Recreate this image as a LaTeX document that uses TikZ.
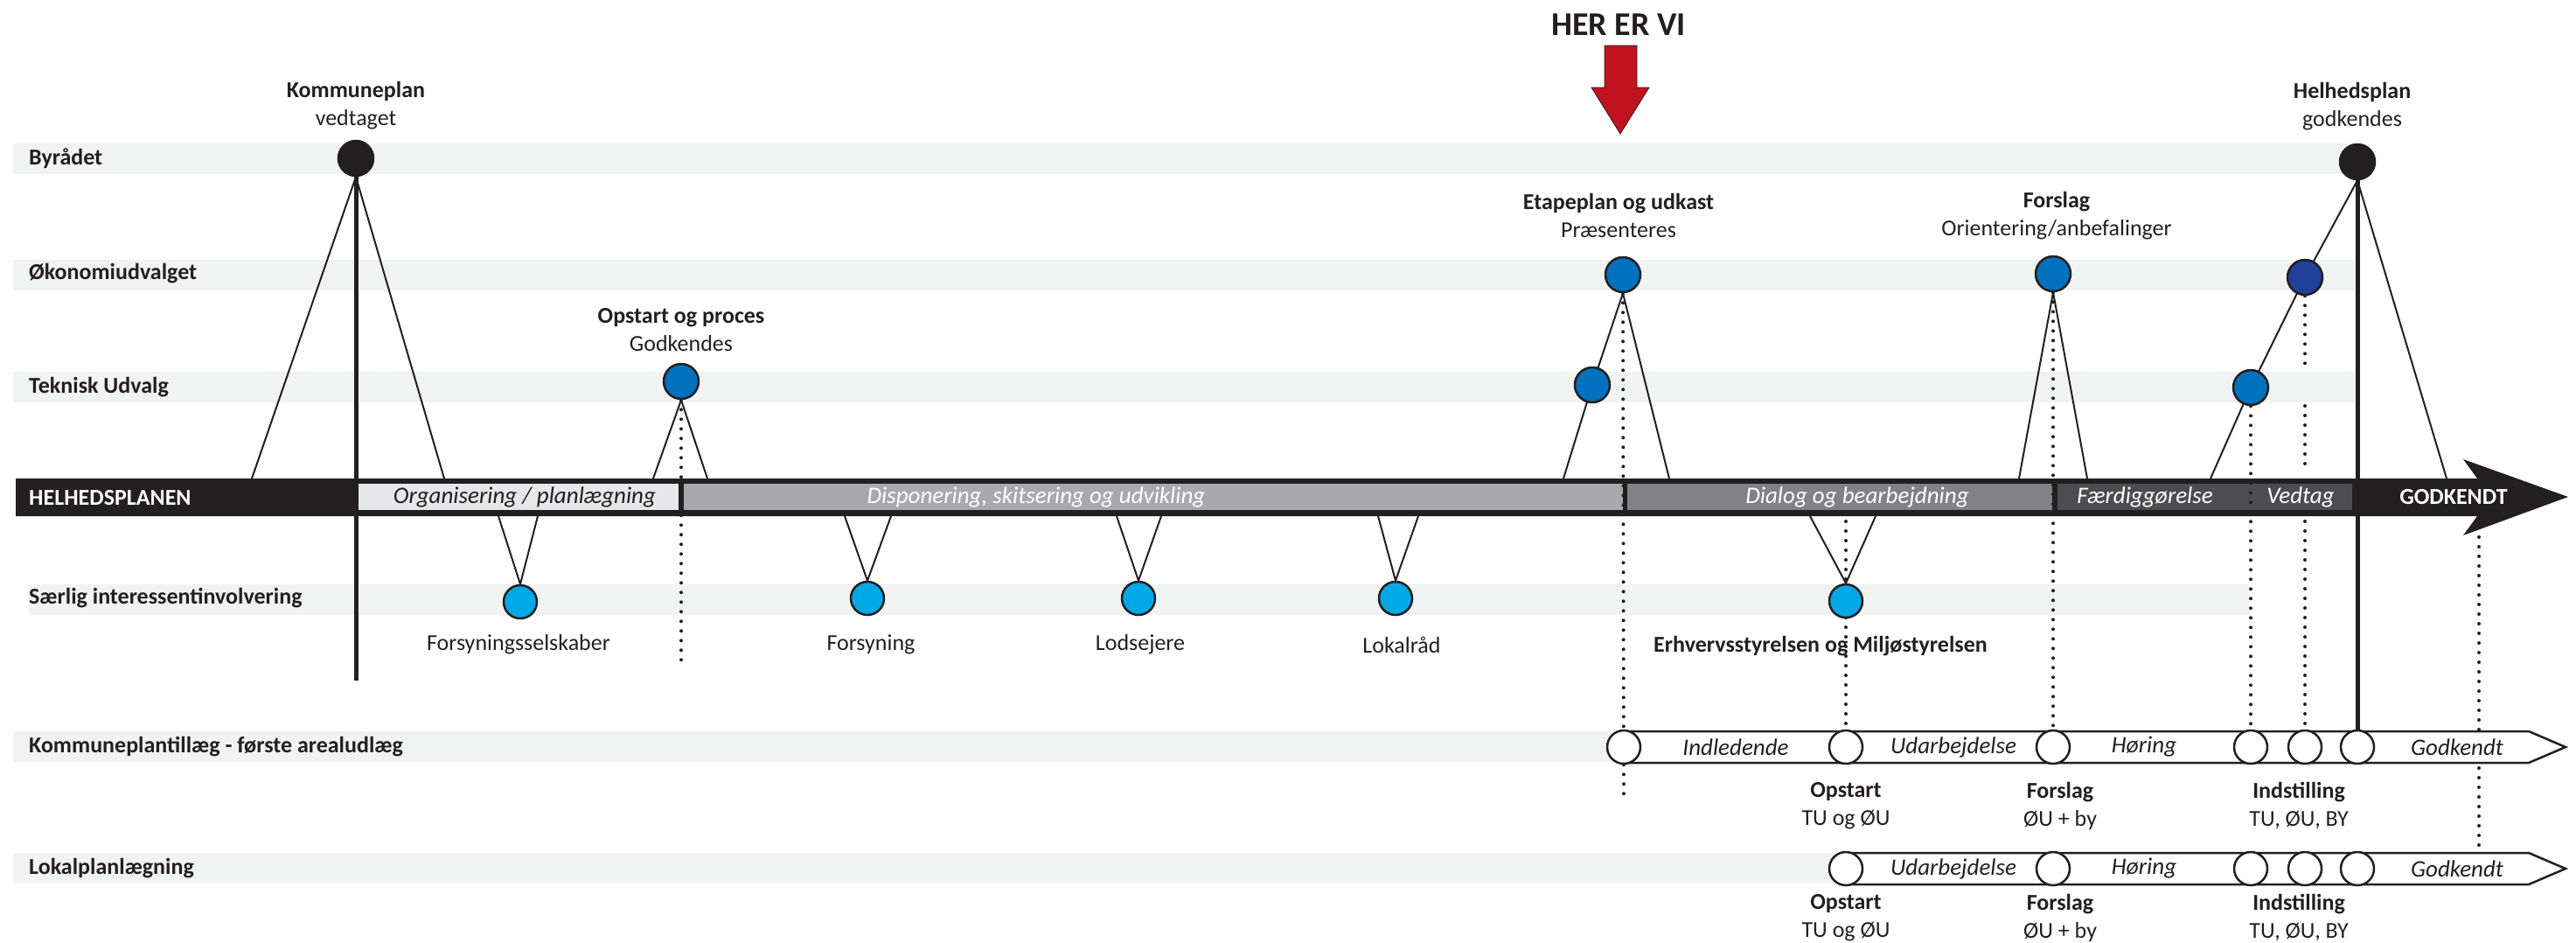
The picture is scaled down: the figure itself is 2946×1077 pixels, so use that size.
\documentclass[tikz,border=0pt]{standalone}
\usepackage{fontspec}
\setmainfont{Carlito}
\usetikzlibrary{calc}
\definecolor{bandgray}{HTML}{F1F2F2}
\definecolor{ink}{HTML}{231F20}
\definecolor{ph1}{HTML}{E6E7E8}
\definecolor{ph2}{HTML}{A7A9AC}
\definecolor{ph3}{HTML}{808285}
\definecolor{ph4}{HTML}{4D4D4F}
\definecolor{mblue}{HTML}{0071BC}
\definecolor{cblue}{HTML}{00A8E6}
\definecolor{dblue}{HTML}{21409A}
\definecolor{hred}{HTML}{C1121F}
\pgfdeclarelayer{back}
\pgfdeclarelayer{mid}
\pgfsetlayers{back,mid,main}
\tikzset{
 rowband/.style={fill=bandgray, draw=none},
 rowlbl/.style={anchor=west, font=\bfseries\fontsize{26}{30}\selectfont, text=ink, inner sep=0},
 ms/.style={circle, draw=ink, line width=2.5pt, minimum size=40pt, inner sep=0},
 blk/.style={ms, fill=ink},
 blu/.style={ms, fill=mblue},
 cyn/.style={ms, fill=cblue, minimum size=38pt},
 dbl/.style={ms, fill=dblue},
 wht/.style={ms, fill=white, minimum size=38pt},
 leg/.style={line width=2pt, draw=ink},
 vline/.style={line width=5pt, draw=ink},
 dotln/.style={line width=4pt, draw=ink, line cap=round, dash pattern=on 0pt off 11pt},
 ttl/.style={align=center, font=\fontsize{26}{32}\selectfont, text=ink, inner sep=0},
 sub/.style={font=\fontsize{26}{30}\selectfont, text=ink, inner sep=0},
 phtxt/.style={font=\itshape\fontsize{27}{30}\selectfont, inner sep=0},
 trk/.style={draw=ink, line width=2.5pt, fill=white, line join=miter},
}
\begin{document}
\begin{tikzpicture}[x=1pt,y=-1pt]
\useasboundingbox (0,0) rectangle (2946,1077);
% ---------------- background bands
\begin{pgfonlayer}{back}
 \fill[rowband] (15,164) rectangle (2695,199);
 \fill[rowband] (15,297) rectangle (2695,332);
 \fill[rowband] (15,425) rectangle (2695,460);
 \fill[rowband] (33,668) rectangle (2572,703);
 \fill[rowband] (15,836) rectangle (1857,871);
 \fill[rowband] (15,975) rectangle (2111,1010);
 % main timeline arrow
 \fill[ink] (18,547) -- (2833,547) -- (2817,525) -- (2937,568) -- (2817,612) -- (2833,590) -- (18,590) -- cycle;
 \fill[ph1] (410,553) rectangle (776,583);
 \fill[ph2] (782,553) rectangle (1856,583);
 \fill[ph3] (1861,553) rectangle (2347,583);
 \fill[ph4] (2353,553) rectangle (2690,583);
\end{pgfonlayer}

% ---------------- row labels
\node[rowlbl] (rByr) at (33,181) {Byrådet};
\node[rowlbl] (rOek) at (33,313) {Økonomiudvalget};
\node[rowlbl] (rTek) at (33,443) {Teknisk Udvalg};
\node[rowlbl] (rSaer) at (33,684) {Særlig interessentinvolvering};
\node[rowlbl] (rKpt) at (33,854) {Kommuneplantillæg - første arealudlæg};
\node[rowlbl] (rLok) at (33,993) {Lokalplanlægning};

% ---------------- main band texts
\node[anchor=west, font=\bfseries\fontsize{26}{30}\selectfont, text=white, inner sep=0] (hpl) at (33,569) {HELHEDSPLANEN};
\node[phtxt, text=ink] (p1) at (600,568) {Organisering / planlægning};
\node[phtxt, text=white] (p2) at (1185,568) {Disponering, skitsering og udvikling};
\node[phtxt, text=white] (p3) at (2124,568) {Dialog og bearbejdning};
\node[phtxt, text=white] (p4) at (2453,568) {Færdiggørelse};
\node[phtxt, text=white] (p5) at (2631,568) {Vedtag};
\node[font=\bfseries\fontsize{26}{30}\selectfont, text=white, inner sep=0] (gk) at (2806,568) {GODKENDT};

% ---------------- HER ER VI
\node[font=\bfseries\fontsize{38}{42}\selectfont, text=ink, inner sep=0] (her) at (1851,28) {HER ER VI};
\fill[hred, draw=ink, line width=0.8pt] (1835,52) -- (1872,52) -- (1872,100) -- (1886,100) -- (1853,153) -- (1820,100) -- (1835,100) -- cycle;

% ---------------- lower tracks
\draw[trk] (1857,836) -- (2892,836) -- (2934,854) -- (2892,872) -- (1857,872) -- cycle;
\draw[trk] (2111,975) -- (2892,975) -- (2934,993) -- (2892,1011) -- (2111,1011) -- cycle;

% ---------------- milestone circles
\node[blk] (kp) at (407,181) {};
\node[blk] (hp) at (2696,185) {};
\node[blu] (op) at (779,436) {};
\node[blu] (ep) at (1856,314) {};
\node[blu] (et) at (1821,440) {};
\node[blu] (fo) at (2348,313) {};
\node[dbl] (db) at (2636,317) {};
\node[blu] (tk) at (2574,443) {};
\node[cyn] (s1) at (595,688) {};
\node[cyn] (s2) at (992,684) {};
\node[cyn] (s3) at (1302,684) {};
\node[cyn] (s4) at (1596,684) {};
\node[cyn] (s5) at (2111,687) {};
\node[wht] (k1) at (1857,854) {};
\node[wht] (k2) at (2111,854) {};
\node[wht] (k3) at (2348,854) {};
\node[wht] (k4) at (2574,854) {};
\node[wht] (k5) at (2636,854) {};
\node[wht] (k6) at (2696,854) {};
\node[wht] (l2) at (2111,993) {};
\node[wht] (l3) at (2348,993) {};
\node[wht] (l4) at (2574,993) {};
\node[wht] (l5) at (2636,993) {};
\node[wht] (l6) at (2696,993) {};

% ---------------- milestone titles
\node[ttl] (tKp) at (407,121) {{\bfseries Kommuneplan}\\vedtaget};
\node[ttl] (tOp) at (779,377) {{\bfseries Opstart og proces}\\Godkendes};
\node[ttl] (tEp) at (1851,246) {{\bfseries Etapeplan og udkast}\\Præsenteres};
\node[ttl] (tFo) at (2352,247) {{\bfseries Forslag}\\Orientering/anbefalinger};
\node[ttl] (tHp) at (2690,122) {{\bfseries Helhedsplan}\\godkendes};

% ---------------- stakeholder labels
\node[sub] (n1) at (593,737) {Forsyningsselskaber};
\node[sub] (n2) at (996,737) {Forsyning};
\node[sub] (n3) at (1304,737) {Lodsejere};
\node[sub] (n4) at (1603,737) {Lokalråd};
\node[sub, font=\bfseries\fontsize{26}{30}\selectfont] (n5) at (2082,739) {Erhvervsstyrelsen og Miljøstyrelsen};

% ---------------- track labels
\foreach \y/\nm in {854/k, 993/l}{
 \node[phtxt, text=ink] (\nm U) at (2234,\y) {Udarbejdelse};
 \node[phtxt, text=ink] (\nm H) at (2452,\y) {Høring};
 \node[phtxt, text=ink] (\nm G) at (2810,\y) {Godkendt};
}
\node[phtxt, text=ink] (kI) at (1985,854) {Indledende};
\foreach \y/\nm in {921/a, 1049/b}{
 \node[ttl] (\nm1) at (2111,\y) {{\bfseries Opstart}\\TU og ØU};
 \node[ttl] (\nm2) at (2356,\y) {{\bfseries Forslag}\\ØU + by};
 \node[ttl] (\nm3) at (2629,\y) {{\bfseries Indstilling}\\TU, ØU, BY};
}

% ---------------- connectors
\coordinate (kpL) at (288,547);  \coordinate (kpR) at (508,547);  \coordinate (kpE) at (407,778);
\coordinate (opL) at (747,547);  \coordinate (opR) at (809,547);  \coordinate (opE) at (779,755);
\coordinate (epL) at (1788,547); \coordinate (epR) at (1909,547); \coordinate (epE) at (1857,910);
\coordinate (foL) at (2309,547); \coordinate (foR) at (2387,547);
\coordinate (hpL) at (2528,547); \coordinate (hpR) at (2798,547);
\coordinate (s1L) at (570,590);  \coordinate (s1R) at (615,590);
\coordinate (s2L) at (966,590);  \coordinate (s2R) at (1019,590);
\coordinate (s3L) at (1277,590); \coordinate (s3R) at (1328,590);
\coordinate (s4L) at (1576,590); \coordinate (s4R) at (1622,590);
\coordinate (s5L) at (2070,590); \coordinate (s5R) at (2145,590);
\coordinate (s5T) at (2111,596);
\coordinate (dbA) at (2636,424); \coordinate (dbB) at (2636,464);
\coordinate (dbC) at (2636,541); \coordinate (dbD) at (2636,596);
\coordinate (gkA) at (2835,614); \coordinate (gkB) at (2835,975);
\begin{pgfonlayer}{mid}
 \draw[leg] (kpL) -- (kp.south) -- (kpR);
 \draw[vline] (kp.south) -- (kpE);
 \draw[leg] (opL) -- (op.south) -- (opR);
 \draw[leg] (epL) -- (et.center) -- (ep.south) -- (epR);
 \draw[leg] (foL) -- (fo.south) -- (foR);
 \draw[leg] (hpL) -- (tk.center) -- (db.center) -- (hp.south) -- (hpR);
 \draw[vline] (hp.south) -- (k6.north);
 \foreach \s in {s1,s2,s3,s4,s5}{
  \draw[leg] (\s L) -- (\s.north) -- (\s R);
 }
 \draw[dotln] (op.south) -- (opE);
 \draw[dotln] (ep.south) -- (epE);
 \draw[dotln] (fo.south) -- (k3.north);
 \draw[dotln] (s5T) -- (k2.north);
 \draw[dotln] (tk.south) -- (k4.north);
 \draw[dotln] (db.south) -- (dbA);
 \draw[dotln] (dbB) -- (dbC);
 \draw[dotln] (dbD) -- (k5.north);
 \draw[dotln] (gkA) -- (gkB);
\end{pgfonlayer}
\end{tikzpicture}
\end{document}
